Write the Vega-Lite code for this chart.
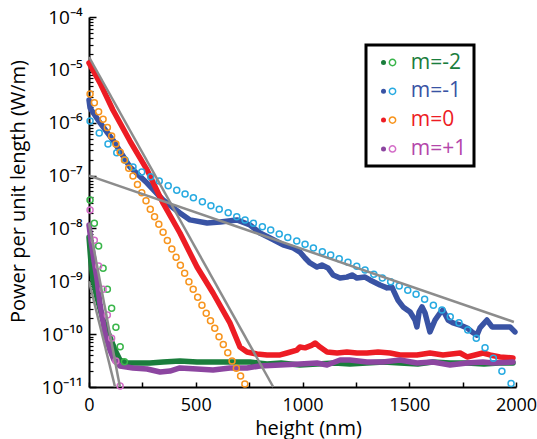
{
  "$schema": "https://vega.github.io/schema/vega-lite/v6.json",
  "width": 427,
  "height": 370,
  "autosize": {"type": "none"},
  "padding": {"left": 89, "top": 17, "right": 21, "bottom": 52},
  "background": "white",
  "config": {
    "view": {"stroke": null},
    "font": "Open Sans",
    "axis": {"grid": false, "domainColor": "black", "tickColor": "black", "labelColor": "black", "titleColor": "black", "titleFontWeight": "normal"}
  },
  "datasets": {
    "exp": [
      {"s":"m=-2","x":0,"y":6.9e-9},{"s":"m=-2","x":9,"y":2.32e-9},{"s":"m=-2","x":19,"y":1.06e-9},{"s":"m=-2","x":37,"y":5.0e-10},{"s":"m=-2","x":66,"y":1.85e-10},{"s":"m=-2","x":98,"y":8.8e-11},{"s":"m=-2","x":122,"y":5.0e-11},{"s":"m=-2","x":145,"y":3.24e-11},{"s":"m=-2","x":178,"y":2.85e-11},{"s":"m=-2","x":230,"y":2.85e-11},{"s":"m=-2","x":286,"y":2.85e-11},{"s":"m=-2","x":347,"y":2.97e-11},{"s":"m=-2","x":426,"y":3.1e-11},{"s":"m=-2","x":506,"y":2.97e-11},{"s":"m=-2","x":581,"y":2.97e-11},{"s":"m=-2","x":660,"y":2.97e-11},{"s":"m=-2","x":754,"y":2.97e-11},{"s":"m=-2","x":834,"y":2.72e-11},{"s":"m=-2","x":900,"y":2.85e-11},{"s":"m=-2","x":988,"y":2.61e-11},{"s":"m=-2","x":1068,"y":2.72e-11},{"s":"m=-2","x":1150,"y":2.85e-11},{"s":"m=-2","x":1222,"y":2.72e-11},{"s":"m=-2","x":1300,"y":2.85e-11},{"s":"m=-2","x":1380,"y":2.97e-11},{"s":"m=-2","x":1457,"y":2.85e-11},{"s":"m=-2","x":1540,"y":2.72e-11},{"s":"m=-2","x":1610,"y":2.97e-11},{"s":"m=-2","x":1691,"y":2.85e-11},{"s":"m=-2","x":1771,"y":2.85e-11},{"s":"m=-2","x":1850,"y":2.72e-11},{"s":"m=-2","x":1920,"y":2.85e-11},{"s":"m=-2","x":1986,"y":2.85e-11},
      {"s":"m=-1","x":0,"y":2.7e-6},{"s":"m=-1","x":5,"y":1.9e-6},{"s":"m=-1","x":52,"y":9.9e-7},{"s":"m=-1","x":112,"y":4.7e-7},{"s":"m=-1","x":192,"y":1.45e-7},{"s":"m=-1","x":272,"y":7.2e-8},{"s":"m=-1","x":347,"y":3.45e-8},{"s":"m=-1","x":426,"y":1.96e-8},{"s":"m=-1","x":473,"y":1.45e-8},{"s":"m=-1","x":553,"y":1.27e-8},{"s":"m=-1","x":614,"y":1.32e-8},{"s":"m=-1","x":693,"y":1.45e-8},{"s":"m=-1","x":754,"y":1.16e-8},{"s":"m=-1","x":801,"y":8.2e-9},{"s":"m=-1","x":848,"y":6.6e-9},{"s":"m=-1","x":909,"y":4.9e-9},{"s":"m=-1","x":956,"y":4.27e-9},{"s":"m=-1","x":988,"y":3.58e-9},{"s":"m=-1","x":1012,"y":2.76e-9},{"s":"m=-1","x":1035,"y":2.22e-9},{"s":"m=-1","x":1068,"y":1.86e-9},{"s":"m=-1","x":1091,"y":2.03e-9},{"s":"m=-1","x":1119,"y":1.79e-9},{"s":"m=-1","x":1143,"y":1.32e-9},{"s":"m=-1","x":1176,"y":1.15e-9},{"s":"m=-1","x":1208,"y":1.2e-9},{"s":"m=-1","x":1232,"y":1.32e-9},{"s":"m=-1","x":1255,"y":1.15e-9},{"s":"m=-1","x":1293,"y":1.2e-9},{"s":"m=-1","x":1316,"y":1.06e-9},{"s":"m=-1","x":1363,"y":8.5e-10},{"s":"m=-1","x":1396,"y":7.5e-10},{"s":"m=-1","x":1419,"y":7.8e-10},{"s":"m=-1","x":1429,"y":6.3e-10},{"s":"m=-1","x":1447,"y":4.4e-10},{"s":"m=-1","x":1471,"y":3.27e-10},{"s":"m=-1","x":1504,"y":2.62e-10},{"s":"m=-1","x":1527,"y":1.85e-10},{"s":"m=-1","x":1536,"y":1.37e-10},{"s":"m=-1","x":1546,"y":2.62e-10},{"s":"m=-1","x":1560,"y":3.27e-10},{"s":"m=-1","x":1574,"y":2.51e-10},{"s":"m=-1","x":1597,"y":1.1e-10},{"s":"m=-1","x":1621,"y":1.85e-10},{"s":"m=-1","x":1644,"y":2.51e-10},{"s":"m=-1","x":1658,"y":2.86e-10},{"s":"m=-1","x":1682,"y":1.85e-10},{"s":"m=-1","x":1705,"y":1.63e-10},{"s":"m=-1","x":1738,"y":1.49e-10},{"s":"m=-1","x":1771,"y":1.31e-10},{"s":"m=-1","x":1794,"y":1.1e-10},{"s":"m=-1","x":1817,"y":9.6e-11},{"s":"m=-1","x":1831,"y":1.31e-10},{"s":"m=-1","x":1864,"y":1.85e-10},{"s":"m=-1","x":1888,"y":1.37e-10},{"s":"m=-1","x":1916,"y":1.37e-10},{"s":"m=-1","x":1939,"y":1.37e-10},{"s":"m=-1","x":1972,"y":1.37e-10},{"s":"m=-1","x":1995,"y":1.1e-10},
      {"s":"m=0","x":0,"y":1.35e-5},{"s":"m=0","x":52,"y":5.6e-6},{"s":"m=0","x":112,"y":1.74e-6},{"s":"m=0","x":192,"y":4.5e-7},{"s":"m=0","x":272,"y":1.28e-7},{"s":"m=0","x":347,"y":3.0e-8},{"s":"m=0","x":426,"y":8.2e-9},{"s":"m=0","x":506,"y":1.86e-9},{"s":"m=0","x":581,"y":6.0e-10},{"s":"m=0","x":660,"y":1.63e-10},{"s":"m=0","x":707,"y":5.7e-11},{"s":"m=0","x":740,"y":4.6e-11},{"s":"m=0","x":787,"y":4.2e-11},{"s":"m=0","x":834,"y":4.04e-11},{"s":"m=0","x":895,"y":4.04e-11},{"s":"m=0","x":927,"y":4.4e-11},{"s":"m=0","x":974,"y":5.0e-11},{"s":"m=0","x":988,"y":5.7e-11},{"s":"m=0","x":1012,"y":5.5e-11},{"s":"m=0","x":1045,"y":6.2e-11},{"s":"m=0","x":1059,"y":6.8e-11},{"s":"m=0","x":1082,"y":5.7e-11},{"s":"m=0","x":1115,"y":4.6e-11},{"s":"m=0","x":1162,"y":4.4e-11},{"s":"m=0","x":1208,"y":4.6e-11},{"s":"m=0","x":1255,"y":4.4e-11},{"s":"m=0","x":1302,"y":4.4e-11},{"s":"m=0","x":1354,"y":4.6e-11},{"s":"m=0","x":1410,"y":4.4e-11},{"s":"m=0","x":1457,"y":4.04e-11},{"s":"m=0","x":1536,"y":4.04e-11},{"s":"m=0","x":1597,"y":4.4e-11},{"s":"m=0","x":1658,"y":4.04e-11},{"s":"m=0","x":1738,"y":4.4e-11},{"s":"m=0","x":1771,"y":3.7e-11},{"s":"m=0","x":1845,"y":4.4e-11},{"s":"m=0","x":1878,"y":4.04e-11},{"s":"m=0","x":1925,"y":3.7e-11},{"s":"m=0","x":1986,"y":3.54e-11},
      {"s":"m=+1","x":0,"y":1.16e-8},{"s":"m=+1","x":9,"y":6.0e-9},{"s":"m=+1","x":23,"y":2.53e-9},{"s":"m=+1","x":37,"y":1.15e-9},{"s":"m=+1","x":52,"y":3.56e-10},{"s":"m=+1","x":75,"y":1.05e-10},{"s":"m=+1","x":98,"y":5.0e-11},{"s":"m=+1","x":117,"y":3.24e-11},{"s":"m=+1","x":145,"y":2.5e-11},{"s":"m=+1","x":206,"y":2.29e-11},{"s":"m=+1","x":272,"y":2.19e-11},{"s":"m=+1","x":333,"y":1.92e-11},{"s":"m=+1","x":379,"y":2.0e-11},{"s":"m=+1","x":426,"y":2.29e-11},{"s":"m=+1","x":506,"y":2.19e-11},{"s":"m=+1","x":581,"y":2.1e-11},{"s":"m=+1","x":660,"y":2.29e-11},{"s":"m=+1","x":740,"y":2.29e-11},{"s":"m=+1","x":801,"y":2.5e-11},{"s":"m=+1","x":895,"y":2.61e-11},{"s":"m=+1","x":988,"y":2.72e-11},{"s":"m=+1","x":1068,"y":2.85e-11},{"s":"m=+1","x":1115,"y":2.61e-11},{"s":"m=+1","x":1176,"y":3.24e-11},{"s":"m=+1","x":1222,"y":3.24e-11},{"s":"m=+1","x":1302,"y":2.97e-11},{"s":"m=+1","x":1377,"y":2.97e-11},{"s":"m=+1","x":1457,"y":3.24e-11},{"s":"m=+1","x":1536,"y":2.85e-11},{"s":"m=+1","x":1611,"y":2.97e-11},{"s":"m=+1","x":1691,"y":2.61e-11},{"s":"m=+1","x":1771,"y":2.85e-11},{"s":"m=+1","x":1845,"y":2.97e-11},{"s":"m=+1","x":1890,"y":2.85e-11},{"s":"m=+1","x":1986,"y":2.97e-11}
    ],
    "sim": [
      {"s":"m=-1 sim","x":5,"y":1.08e-6},{"s":"m=-1 sim","x":48,"y":6.4e-7},{"s":"m=-1 sim","x":89,"y":3.96e-7},{"s":"m=-1 sim","x":130,"y":2.71e-7},{"s":"m=-1 sim","x":169,"y":1.97e-7},{"s":"m=-1 sim","x":206,"y":1.45e-7},{"s":"m=-1 sim","x":247,"y":1.17e-7},{"s":"m=-1 sim","x":289,"y":9.5e-8},{"s":"m=-1 sim","x":329,"y":7.9e-8},{"s":"m=-1 sim","x":371,"y":6.4e-8},{"s":"m=-1 sim","x":411,"y":5.3e-8},{"s":"m=-1 sim","x":450,"y":4.48e-8},{"s":"m=-1 sim","x":489,"y":3.81e-8},{"s":"m=-1 sim","x":531,"y":3.2e-8},{"s":"m=-1 sim","x":571,"y":2.69e-8},{"s":"m=-1 sim","x":610,"y":2.3e-8},{"s":"m=-1 sim","x":652,"y":1.99e-8},{"s":"m=-1 sim","x":692,"y":1.67e-8},{"s":"m=-1 sim","x":731,"y":1.45e-8},{"s":"m=-1 sim","x":770,"y":1.25e-8},{"s":"m=-1 sim","x":812,"y":1.08e-8},{"s":"m=-1 sim","x":851,"y":9.3e-9},{"s":"m=-1 sim","x":891,"y":7.85e-9},{"s":"m=-1 sim","x":931,"y":6.7e-9},{"s":"m=-1 sim","x":973,"y":5.8e-9},{"s":"m=-1 sim","x":1012,"y":5.0e-9},{"s":"m=-1 sim","x":1051,"y":4.27e-9},{"s":"m=-1 sim","x":1093,"y":3.63e-9},{"s":"m=-1 sim","x":1132,"y":3.15e-9},{"s":"m=-1 sim","x":1172,"y":2.68e-9},{"s":"m=-1 sim","x":1213,"y":2.29e-9},{"s":"m=-1 sim","x":1254,"y":1.92e-9},{"s":"m=-1 sim","x":1293,"y":1.64e-9},{"s":"m=-1 sim","x":1334,"y":1.36e-9},{"s":"m=-1 sim","x":1374,"y":1.15e-9},{"s":"m=-1 sim","x":1413,"y":9.8e-10},{"s":"m=-1 sim","x":1453,"y":8.1e-10},{"s":"m=-1 sim","x":1493,"y":6.8e-10},{"s":"m=-1 sim","x":1532,"y":5.7e-10},{"s":"m=-1 sim","x":1572,"y":4.56e-10},{"s":"m=-1 sim","x":1613,"y":3.52e-10},{"s":"m=-1 sim","x":1653,"y":2.86e-10},{"s":"m=-1 sim","x":1692,"y":2.14e-10},{"s":"m=-1 sim","x":1733,"y":1.65e-10},{"s":"m=-1 sim","x":1774,"y":1.2e-10},{"s":"m=-1 sim","x":1814,"y":8.4e-11},{"s":"m=-1 sim","x":1855,"y":5.5e-11},{"s":"m=-1 sim","x":1894,"y":3.5e-11},{"s":"m=-1 sim","x":1934,"y":1.98e-11},{"s":"m=-1 sim","x":1977,"y":1.17e-11},
      {"s":"m=0 sim","x":5,"y":3.49e-6},{"s":"m=0 sim","x":25,"y":2.39e-6},{"s":"m=0 sim","x":45,"y":1.62e-6},{"s":"m=0 sim","x":66,"y":1.16e-6},{"s":"m=0 sim","x":86,"y":8.1e-7},{"s":"m=0 sim","x":106,"y":5.6e-7},{"s":"m=0 sim","x":126,"y":3.96e-7},{"s":"m=0 sim","x":146,"y":2.75e-7},{"s":"m=0 sim","x":166,"y":1.97e-7},{"s":"m=0 sim","x":186,"y":1.37e-7},{"s":"m=0 sim","x":206,"y":9.8e-8},{"s":"m=0 sim","x":227,"y":6.8e-8},{"s":"m=0 sim","x":247,"y":4.74e-8},{"s":"m=0 sim","x":267,"y":3.35e-8},{"s":"m=0 sim","x":287,"y":2.3e-8},{"s":"m=0 sim","x":307,"y":1.67e-8},{"s":"m=0 sim","x":327,"y":1.2e-8},{"s":"m=0 sim","x":347,"y":8.45e-9},{"s":"m=0 sim","x":367,"y":5.9e-9},{"s":"m=0 sim","x":388,"y":4.08e-9},{"s":"m=0 sim","x":408,"y":2.84e-9},{"s":"m=0 sim","x":428,"y":2.01e-9},{"s":"m=0 sim","x":448,"y":1.42e-9},{"s":"m=0 sim","x":468,"y":9.8e-10},{"s":"m=0 sim","x":488,"y":7.1e-10},{"s":"m=0 sim","x":509,"y":4.98e-10},{"s":"m=0 sim","x":529,"y":3.52e-10},{"s":"m=0 sim","x":549,"y":2.48e-10},{"s":"m=0 sim","x":569,"y":1.8e-10},{"s":"m=0 sim","x":589,"y":1.29e-10},{"s":"m=0 sim","x":609,"y":8.95e-11},{"s":"m=0 sim","x":629,"y":6.4e-11},{"s":"m=0 sim","x":650,"y":4.46e-11},{"s":"m=0 sim","x":670,"y":3.1e-11},{"s":"m=0 sim","x":690,"y":2.26e-11},{"s":"m=0 sim","x":710,"y":1.61e-11},{"s":"m=0 sim","x":730,"y":1.14e-11},
      {"s":"m=-2 sim","x":5,"y":3.45e-8},{"s":"m=-2 sim","x":25,"y":1.25e-8},{"s":"m=-2 sim","x":45,"y":4.66e-9},{"s":"m=-2 sim","x":66,"y":1.76e-9},{"s":"m=-2 sim","x":86,"y":7.1e-10},{"s":"m=-2 sim","x":106,"y":3.08e-10},{"s":"m=-2 sim","x":126,"y":1.35e-10},{"s":"m=-2 sim","x":146,"y":5.8e-11},{"s":"m=-2 sim","x":166,"y":3.01e-11},
      {"s":"m=+1 sim","x":5,"y":2.23e-8},{"s":"m=+1 sim","x":25,"y":6.0e-9},{"s":"m=+1 sim","x":45,"y":1.95e-9},{"s":"m=+1 sim","x":66,"y":7.1e-10},{"s":"m=+1 sim","x":86,"y":2.3e-10},{"s":"m=+1 sim","x":106,"y":8.4e-11},{"s":"m=+1 sim","x":126,"y":3.1e-11},{"s":"m=+1 sim","x":146,"y":1.04e-11}
    ],
    "fit": [
      {"s":"fit m=0","x":0,"y":1.75e-5},{"s":"fit m=0","x":863,"y":1e-11},
      {"s":"fit m=-1","x":0,"y":1.0e-7},{"s":"fit m=-1","x":1990,"y":1.7e-10},
      {"s":"fit m=-2","x":0,"y":1.25e-8},{"s":"fit m=-2","x":145,"y":1e-11},
      {"s":"fit m=+1","x":0,"y":1.0e-9},{"s":"fit m=+1","x":122,"y":1e-11}
    ]
  },
  "encoding": {
    "x": {
      "field": "x", "type": "quantitative",
      "scale": {"domain": [0, 2000], "nice": false},
      "axis": {
        "values": [0, 250, 500, 750, 1000, 1250, 1500, 1750, 2000],
        "format": "d",
        "labelExpr": "datum.value % 500 == 0 ? datum.label : ''",
        "title": "height (nm)", "titleFontSize": 20, "titleX": 219, "titleY": 51, "titleBaseline": "bottom",
        "tickSize": -5, "tickWidth": 1.5, "domainWidth": 2,
        "labelFontSize": 18, "labelPadding": 14, "labelFlush": false, "labelOverlap": false
      }
    }
  },
  "layer": [
    {
      "data": {"name": "exp"},
      "mark": {"type": "line", "strokeWidth": 5.5, "strokeJoin": "round", "strokeCap": "round"},
      "encoding": {
        "y": {
          "field": "y", "type": "quantitative",
          "scale": {"type": "log", "domain": [1e-11, 1e-4], "nice": false},
          "axis": {
            "orient": "left",
            "values": [1e-11, 1e-10, 1e-9, 1e-8, 1e-7, 1e-6, 1e-5, 1e-4],
            "labelExpr": "['10⁻¹¹','10⁻¹⁰','10⁻⁹','10⁻⁸','10⁻⁷','10⁻⁶','10⁻⁵','10⁻⁴'][round(log(datum.value)/LN10)+11]",
            "labelFontSize": 19, "labelPadding": 14, "labelOverlap": false, "labelFlush": false,
            "tickSize": -7, "tickWidth": 1.5, "domainWidth": 2,
            "title": "Power per unit length (W/m)", "titleFontSize": 20,
            "titleX": -71, "titleY": 174, "titleAngle": 270, "titleAlign": "center", "titleBaseline": "middle"
          }
        },
        "color": {
          "field": "s", "type": "nominal",
          "scale": {"domain": ["m=-2", "m=-1", "m=0", "m=+1"], "range": ["#1a7d3c", "#3953a4", "#ed1c24", "#8c46a0"]},
          "legend": {
            "orient": "none", "legendX": 277, "legendY": 28, "title": null,
            "symbolType": "circle", "symbolSize": 25, "symbolStrokeWidth": 0,
            "labelFontSize": 21, "labelOffset": 16.7, "rowPadding": 6.8, "padding": 7,
            "fillColor": "white", "strokeColor": "black", "zindex": 1,
            "encode": {
              "legend": {"update": {"strokeWidth": {"value": 3}}},
              "symbols": {"update": {"fill": {"signal": "scale('color', datum.value)"}}},
              "labels": {"update": {"fill": {"signal": "datum.value === 'm=+1' ? '#b446aa' : scale('color', datum.value)"}}}
            }
          }
        }
      }
    },
    {
      "data": {"name": "sim"},
      "mark": {"type": "point", "filled": false, "size": 36, "strokeWidth": 1.5, "opacity": 1},
      "encoding": {
        "y": {
          "field": "y", "type": "quantitative",
          "scale": {"type": "log", "domain": [1e-11, 1e-4], "nice": false},
          "axis": {
            "orient": "left",
            "values": [2e-11,3e-11,4e-11,5e-11,6e-11,7e-11,8e-11,9e-11,2e-10,3e-10,4e-10,5e-10,6e-10,7e-10,8e-10,9e-10,2e-9,3e-9,4e-9,5e-9,6e-9,7e-9,8e-9,9e-9,2e-8,3e-8,4e-8,5e-8,6e-8,7e-8,8e-8,9e-8,2e-7,3e-7,4e-7,5e-7,6e-7,7e-7,8e-7,9e-7,2e-6,3e-6,4e-6,5e-6,6e-6,7e-6,8e-6,9e-6,2e-5,3e-5,4e-5,5e-5,6e-5,7e-5,8e-5,9e-5],
            "labels": false, "domain": false, "title": null,
            "tickSize": -4, "tickWidth": 1.2
          }
        },
        "stroke": {
          "field": "s", "type": "nominal",
          "scale": {"domain": ["m=-2 sim", "m=-1 sim", "m=0 sim", "m=+1 sim"], "range": ["#39b54a", "#27aae1", "#f7941d", "#d46ec8"]},
          "legend": {
            "orient": "none", "legendX": 286, "legendY": 28, "title": null,
            "symbolType": "circle", "symbolSize": 40, "symbolStrokeWidth": 1.5, "symbolFillColor": "white",
            "labelExpr": "' '", "labelFontSize": 21, "rowPadding": 6.8, "padding": 7, "zindex": 2
          }
        }
      }
    },
    {
      "data": {"name": "fit"},
      "mark": {"type": "line", "color": "#8c8c8c", "strokeWidth": 2.5},
      "encoding": {
        "y": {"field": "y", "type": "quantitative", "scale": {"type": "log", "domain": [1e-11, 1e-4], "nice": false}, "axis": null},
        "detail": {"field": "s"}
      }
    }
  ],
  "resolve": {"axis": {"y": "independent"}}
}
